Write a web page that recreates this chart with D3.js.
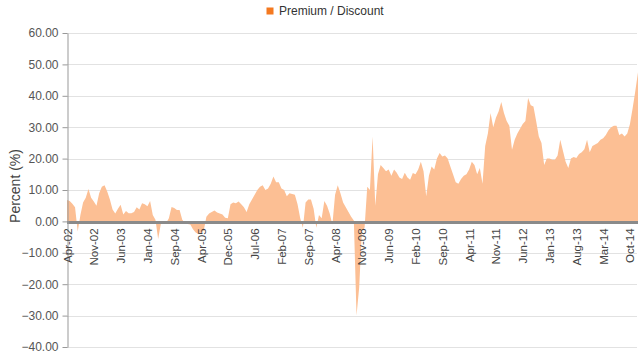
<!DOCTYPE html>
<html>
<head>
<meta charset="utf-8">
<script src="https://cdn.jsdelivr.net/npm/d3@7"></script>
<style>
  html, body { margin: 0; padding: 0; background: #fff; }
  svg { display: block; font-family: "Liberation Sans", Arial, sans-serif; }
</style>
</head>
<body>
<svg id="chart" width="640" height="355"></svg>
<script>
// ---- Data ----
const seriesName = "Premium / Discount";
const xLabels = ["Apr-02","Nov-02","Jun-03","Jan-04","Sep-04","Apr-05","Dec-05","Jul-06","Feb-07","Sep-07","Apr-08","Nov-08","Jun-09","Feb-10","Sep-10","Apr-11","Nov-11","Jun-12","Jan-13","Aug-13","Mar-14","Oct-14"];
const samplesPerLabel = 10;
const yTicks = [60, 50, 40, 30, 20, 10, 0, -10, -20, -30, -40];
const premiumDiscount = [
  6.8, 6.5, 5.6, 4.5, -3.2, 2, 6, 7.5, 10.3, 7.5,
  6.3, 5, 9, 11, 11.5, 9.5, 7, 3.8, 2.5, 4,
  5.3, 2.2, 3.3, 2.6, 2.6, 3, 4.5, 3.8, 5.8, 5.5,
  4.8, 6.5, 2, 0.5, -5.6, -0.8, -0.5, -0.5, 1, 4.6,
  4.3, 3.6, 3.6, 0.5, -0.5, -0.8, -1, -2.5, -3.5, -4,
  -3.5, -3, 1.5, 2.5, 3, 3.5, 2.8, 2.5, 2.2, 1.2,
  1, 5.5, 6, 5.8, 6.3, 5.5, 4.5, 3, 5.5, 7,
  8.5, 10, 11, 11.5, 10, 10.5, 12, 14.3, 12.5, 12.5,
  10.5, 10, 8, 9, 8.7, 8.5, 5.5, 1, -2, 6,
  7, 7, 4, -2, 2, 1, 6.5, 5, 2.5, -1,
  8.5, 11.5, 9, 6, 4.5, 3, 1.5, 0.3, -30, -21,
  -3, -2, 11, 10, 27, 5, 15, 18, 17, 16,
  16.5, 14.5, 16.5, 15.5, 14, 13.5, 15.5, 14, 13.3, 15.4,
  15, 16.5, 19, 16, 8, 14.5, 17.5, 16.5, 20, 21.8,
  20.7, 21, 20, 17.5, 15, 12.5, 12, 13.5, 14.5, 15,
  16.5, 19, 18, 15, 17, 12, 24, 28, 34.5, 30,
  33, 35, 38, 34.5, 32, 30.5, 22.8, 26, 28, 29.5,
  31, 32, 39.3, 37, 36.6, 32, 27, 25, 18, 20,
  20, 19.6, 19.6, 21, 26, 22.5, 19, 17, 20, 20.5,
  20.2, 21.5, 22, 23, 26, 22, 24, 24.5, 25, 26,
  26.5, 27.5, 29, 30, 30.5, 30.5, 27.5, 28, 27, 28,
  31, 36, 41.5, 47.5
];

// ---- Layout ----
const svg = d3.select("#chart");
const plot = { left: 67, right: 638, top: 33, bottom: 347 };
const seriesColor = "#f47920";
const areaColor = "#fcbf94";

const x = d3.scaleLinear()
  .domain([0, premiumDiscount.length - 1])
  .range([plot.left, plot.right]);
const y = d3.scaleLinear()
  .domain([-40, 60])
  .range([plot.bottom, plot.top]);

// gridlines
svg.append("g").selectAll("line")
  .data(yTicks)
  .join("line")
  .attr("x1", plot.left).attr("x2", plot.right - 1)
  .attr("y1", d => Math.round(y(d)) + 0.5)
  .attr("y2", d => Math.round(y(d)) + 0.5)
  .attr("stroke", "#e2e2e2")
  .attr("stroke-width", 1);

// area
const area = d3.area()
  .x((d, i) => x(i))
  .y0(y(0))
  .y1(d => y(d));
svg.append("path")
  .datum(premiumDiscount)
  .attr("d", area)
  .attr("fill", areaColor)
  .attr("stroke", "none");

// zero line
svg.append("line")
  .attr("x1", plot.left).attr("x2", plot.right)
  .attr("y1", y(0) + 1).attr("y2", y(0) + 1)
  .attr("stroke", "#8a8a8a")
  .attr("stroke-width", 3);

// y axis
const yAxis = d3.axisLeft(y)
  .tickValues(yTicks)
  .tickFormat(d3.format(".2f"))
  .tickSize(5)
  .tickSizeOuter(0);
const gy = svg.append("g")
  .attr("transform", `translate(${plot.left + 0.5},0)`)
  .call(yAxis);
gy.select(".domain").attr("stroke", "#999");
gy.selectAll(".tick line").attr("stroke", "#999");
gy.selectAll(".tick text")
  .attr("x", -9)
  .attr("fill", "#555")
  .style("font-size", "12px")
  .style("font-family", "'Liberation Sans', Arial, sans-serif");

// x axis labels
const xAxis = d3.axisBottom(x)
  .tickValues(d3.range(xLabels.length).map(k => k * samplesPerLabel))
  .tickFormat((d, i) => xLabels[i])
  .tickSize(0);
const gx = svg.append("g")
  .attr("transform", `translate(0,${y(0)})`)
  .call(xAxis);
gx.select(".domain").remove();
gx.selectAll(".tick text")
  .attr("transform", "rotate(-90)")
  .attr("text-anchor", "end")
  .attr("x", -7)
  .attr("y", 0)
  .attr("dy", "0.35em")
  .attr("fill", "#444")
  .style("font-size", "11.5px")
  .style("font-family", "'Liberation Sans', Arial, sans-serif");

// y axis title
svg.append("text")
  .attr("transform", "translate(20,186) rotate(-90)")
  .attr("text-anchor", "middle")
  .attr("fill", "#444")
  .style("font-size", "14px")
  .text("Percent (%)");

// legend
svg.append("rect")
  .attr("x", 266.5).attr("y", 7.5)
  .attr("width", 7).attr("height", 7)
  .attr("fill", seriesColor);
svg.append("text")
  .attr("x", 279).attr("y", 15)
  .attr("fill", "#333")
  .style("font-size", "12px")
  .text(seriesName);
</script>
</body>
</html>
